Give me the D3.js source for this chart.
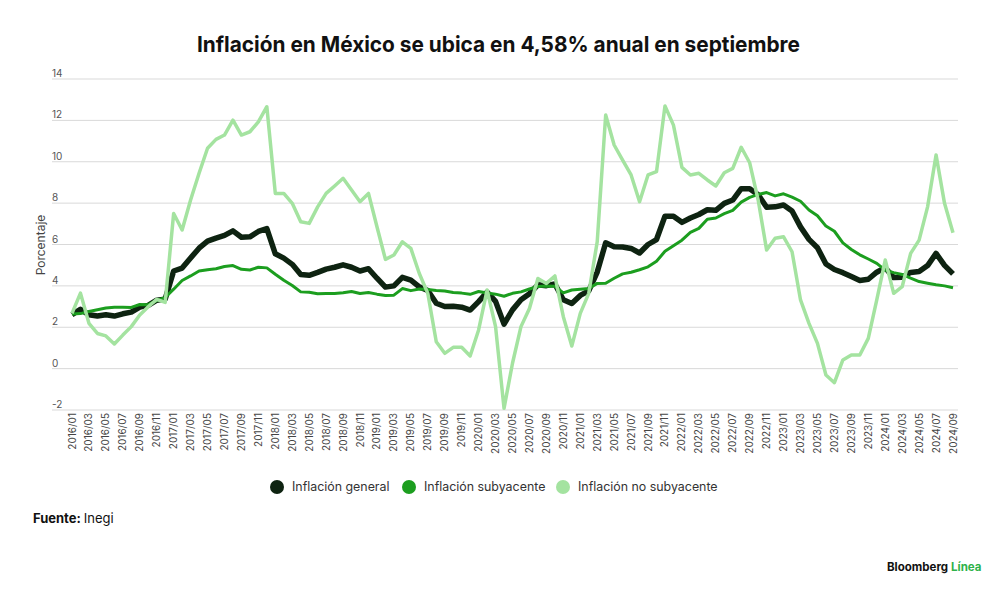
<!DOCTYPE html>
<html>
<head>
<meta charset="utf-8">
<script src="https://cdn.jsdelivr.net/npm/d3@7"></script>
<style>
  body { margin: 0; background: #fff; }
  svg { font-family: "Inter", "Roboto", sans-serif; }
</style>
</head>
<body>
<div id="chart"></div>
<script>
// months 2016/01 .. 2024/09
const years = [2016, 2017, 2018, 2019, 2020, 2021, 2022, 2023, 2024];
const months = [];
years.forEach(y => {
    for (let m = 1; m <= 12; m++) {
        if (y === 2024 && m > 9) break;
        months.push(`${y}/${String(m).padStart(2, "0")}`);
    }
});

const general = [
    2.61, 2.87, 2.60, 2.54, 2.60, 2.54, 2.65, 2.73, 2.97, 3.06, 3.31, 3.36,
    4.72, 4.86, 5.35, 5.82, 6.16, 6.31, 6.44, 6.66, 6.35, 6.37, 6.63, 6.77,
    5.55, 5.34, 5.04, 4.55, 4.51, 4.65, 4.81, 4.90, 5.02, 4.90, 4.72, 4.83,
    4.37, 3.94, 4.00, 4.41, 4.28, 3.95, 3.78, 3.16, 3.00, 3.02, 2.97, 2.83,
    3.24, 3.70, 3.25, 2.15, 2.84, 3.33, 3.62, 4.05, 4.01, 4.09, 3.33, 3.15,
    3.54, 3.76, 4.67, 6.08, 5.89, 5.88, 5.81, 5.59, 6.00, 6.24, 7.37, 7.36,
    7.07, 7.28, 7.45, 7.68, 7.65, 7.99, 8.15, 8.70, 8.70, 8.41, 7.80, 7.82,
    7.91, 7.62, 6.85, 6.25, 5.84, 5.06, 4.79, 4.64, 4.45, 4.26, 4.32, 4.66,
    4.88, 4.40, 4.42, 4.65, 4.69, 4.98, 5.57, 4.99, 4.58
];

const core = [
    2.64, 2.66, 2.76, 2.85, 2.93, 2.97, 2.97, 2.96, 3.10, 3.09, 3.29, 3.44,
    3.84, 4.26, 4.48, 4.72, 4.78, 4.83, 4.94, 4.98, 4.80, 4.77, 4.90, 4.87,
    4.56, 4.27, 4.02, 3.71, 3.69, 3.62, 3.63, 3.63, 3.67, 3.73, 3.63, 3.68,
    3.60, 3.54, 3.55, 3.87, 3.77, 3.85, 3.82, 3.78, 3.75, 3.68, 3.65, 3.59,
    3.73, 3.66, 3.60, 3.50, 3.64, 3.71, 3.85, 3.97, 3.99, 3.98, 3.66, 3.80,
    3.84, 3.87, 4.12, 4.13, 4.37, 4.58, 4.66, 4.78, 4.92, 5.19, 5.67, 5.94,
    6.21, 6.59, 6.78, 7.22, 7.28, 7.49, 7.65, 8.05, 8.28, 8.42, 8.51, 8.35,
    8.45, 8.29, 8.09, 7.67, 7.39, 6.89, 6.64, 6.08, 5.76, 5.50, 5.30, 5.09,
    4.76, 4.64, 4.55, 4.37, 4.21, 4.13, 4.05, 4.00, 3.91
];

const nonCore = [
    2.67, 3.65, 2.19, 1.70, 1.58, 1.19, 1.62, 2.03, 2.59, 2.99, 3.35, 3.20,
    7.50, 6.70, 8.15, 9.44, 10.65, 11.08, 11.29, 12.01, 11.29, 11.45, 11.93, 12.66,
    8.47, 8.47, 7.99, 7.10, 7.02, 7.82, 8.47, 8.83, 9.20, 8.63, 8.07, 8.47,
    6.86, 5.28, 5.49, 6.13, 5.81, 4.60, 3.64, 1.30, 0.74, 1.03, 1.03, 0.61,
    1.87, 3.80, 2.03, -1.92, 0.26, 2.03, 2.91, 4.36, 4.12, 4.48, 2.51, 1.09,
    2.67, 3.64, 6.13, 12.26, 10.81, 10.08, 9.36, 8.07, 9.36, 9.52, 12.70, 11.77,
    9.73, 9.36, 9.44, 9.12, 8.83, 9.47, 9.68, 10.70, 9.95, 8.15, 5.73, 6.30,
    6.37, 5.65, 3.32, 2.19, 1.22, -0.31, -0.68, 0.42, 0.66, 0.66, 1.46, 3.32,
    5.25, 3.64, 3.96, 5.57, 6.21, 7.82, 10.33, 7.99, 6.57
];

const yTicks = [-2, 0, 2, 4, 6, 8, 10, 12, 14];
const seriesNames = ["Inflación general", "Inflación subyacente", "Inflación no subyacente"];

const width = 1000, height = 595;
const svg = d3.select("#chart").append("svg")
    .attr("width", width)
    .attr("height", height);

const x = d3.scalePoint().domain(months).range([72, 953]);
const y = d3.scaleLinear().domain([-2, 14]).range([410, 79]);

const colors = ["#0e2311", "#1c9e1f", "#a4e3a0"];
const widths = [5.5, 3, 3.5];

// title
svg.append("text")
    .attr("x", 197)
    .attr("y", 52)
    .attr("font-size", 22)
    .attr("font-weight", 700)
    .attr("fill", "#111")
    .attr("textLength", 603)
    .attr("lengthAdjust", "spacingAndGlyphs")
    .text("Inflación en México se ubica en 4,58% anual en septiembre");

// gridlines + y labels
svg.append("g").selectAll("line")
    .data(yTicks)
    .enter().append("line")
    .attr("x1", 52)
    .attr("x2", 958)
    .attr("y1", d => y(d))
    .attr("y2", d => y(d))
    .attr("stroke", "#d9d9d9")
    .attr("stroke-width", 1);

svg.append("g").selectAll("text")
    .data(yTicks)
    .enter().append("text")
    .attr("x", 52)
    .attr("y", d => y(d) - 2)
    .attr("font-size", 10)
    .attr("fill", "#555")
    .text(d => d);

svg.append("text")
    .attr("transform", "translate(45,245) rotate(-90)")
    .attr("text-anchor", "middle")
    .attr("font-size", 12)
    .attr("fill", "#444")
    .text("Porcentaje");

// x labels, every other month
svg.append("g").selectAll("text")
    .data(months.filter((d, i) => i % 2 === 0))
    .enter().append("text")
    .attr("transform", d => `translate(${x(d)},413) rotate(-90)`)
    .attr("text-anchor", "end")
    .attr("dy", "0.35em")
    .attr("font-size", 10)
    .attr("fill", "#444")
    .text(d => d);

// lines
const line = d3.line()
    .x((d, i) => x(months[i]))
    .y(d => y(d));

[general, core, nonCore].forEach((s, k) => {
    svg.append("path")
        .datum(s)
        .attr("d", line)
        .attr("fill", "none")
        .attr("stroke", colors[k])
        .attr("stroke-width", widths[k])
        .attr("stroke-linejoin", "round");
});

// legend
const legendX = [277, 409, 563];
const legend = svg.append("g").selectAll("g")
    .data(seriesNames)
    .enter().append("g")
    .attr("transform", (d, i) => `translate(${legendX[i]},487)`);

legend.append("circle")
    .attr("r", 7)
    .attr("fill", (d, i) => colors[i]);

legend.append("text")
    .attr("x", 15)
    .attr("dy", "0.35em")
    .attr("font-size", 12.4)
    .attr("fill", "#333")
    .text(d => d);

// source
const src = svg.append("text")
    .attr("x", 33)
    .attr("y", 523)
    .attr("font-size", 13)
    .attr("fill", "#111");
src.append("tspan").attr("font-weight", 700).text("Fuente:");
src.append("tspan").attr("dx", 3).text("Inegi");

// brand
const brand = svg.append("text")
    .attr("x", 887)
    .attr("y", 571)
    .attr("font-size", 11.5)
    .attr("font-weight", 700)
    .attr("fill", "#111");
brand.append("tspan").text("Bloomberg");
brand.append("tspan").attr("dx", 3).attr("fill", "#2eb24a").text("Línea");
</script>
</body>
</html>
